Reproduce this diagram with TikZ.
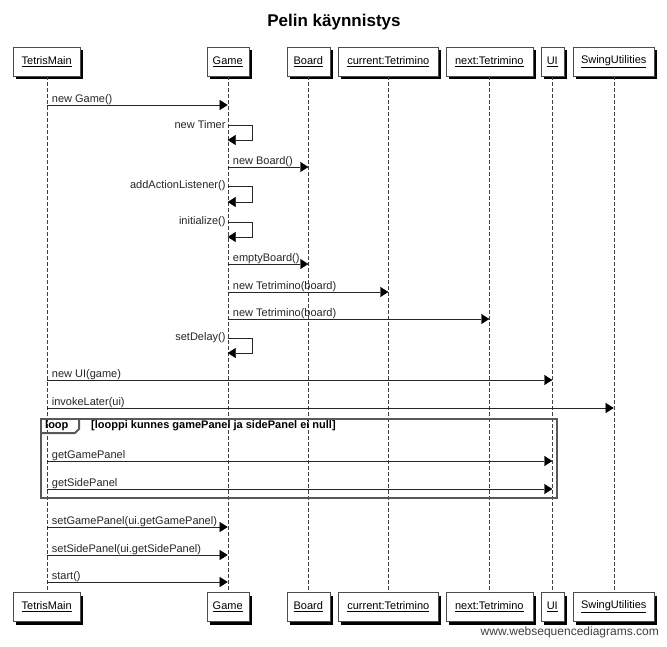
\documentclass[tikz,border=0pt]{standalone}
\usepackage{fontspec}
\setmainfont{Liberation Sans}
\usetikzlibrary{arrows.meta,shadows}

\begin{document}
\begin{tikzpicture}[x=1pt, y=-1pt,
    box/.style={draw=black!70, fill=white, minimum height=29pt, inner sep=0pt, font=\fontsize{11}{13}\selectfont, drop shadow={shadow xshift=3pt, shadow yshift=-3pt, fill=black, opacity=1}},
    life/.style={black!75, dash pattern=on 4pt off 2pt},
    msg/.style={black!85, -{Triangle[length=8pt, width=10pt, color=black, fill=black]}},
    lbl/.style={anchor=base west, font=\fontsize{11}{13}\selectfont, xshift=5pt, yshift=3pt, inner sep=0pt},
    selflbl/.style={anchor=east, font=\fontsize{11}{13}\selectfont, xshift=-2pt, inner sep=0pt},
    frame/.style={black!65, line width=2pt}]
    \useasboundingbox (0,0) rectangle (667,646);
    \fill[white] (0,0) rectangle (667,646);
    
    \node[font=\bfseries\fontsize{17}{19}\selectfont] (title) at (334,22) {Pelin käynnistys};
    
    \node[box, minimum width=67pt] (main) at (46.7,61.5) {\underline{TetrisMain}};
    \node[box, minimum width=42pt] (game) at (227.7,61.5) {\underline{Game}};
    \node[box, minimum width=43pt] (board) at (308.3,61.5) {\underline{Board}};
    \node[box, minimum width=100pt] (cur) at (388.3,61.5) {\underline{current:Tetrimino}};
    \node[box, minimum width=87pt] (next) at (489.3,61.5) {\underline{next:Tetrimino}};
    \node[box, minimum width=23pt] (ui) at (552.3,61.5) {\underline{UI}};
    \node[box, minimum width=81pt] (swing) at (613.7,61.5) {\underline{SwingUtilities}};
    
    \node[box, minimum width=67pt] (main2) at (46.7,607) {\underline{TetrisMain}};
    \node[box, minimum width=42pt] (game2) at (227.7,607) {\underline{Game}};
    \node[box, minimum width=43pt] (board2) at (308.3,607) {\underline{Board}};
    \node[box, minimum width=100pt] (cur2) at (388.3,607) {\underline{current:Tetrimino}};
    \node[box, minimum width=87pt] (next2) at (489.3,607) {\underline{next:Tetrimino}};
    \node[box, minimum width=23pt] (ui2) at (552.3,607) {\underline{UI}};
    \node[box, minimum width=81pt] (swing2) at (613.7,607) {\underline{SwingUtilities}};
    
    \draw[life] (main) -- (main2);
    \draw[life] (game) -- (game2);
    \draw[life] (board) -- (board2);
    \draw[life] (cur) -- (cur2);
    \draw[life] (next) -- (next2);
    \draw[life] (ui) -- (ui2);
    \draw[life] (swing) -- (swing2);
    
    \draw[msg] (main |- 0,105) node[lbl] {new Game()} -- (game |- 0,105);
    \draw[msg] (game |- 0,125) node[selflbl] {new Timer} -- ++(24,0) -- ++(0,15) -- (game |- 0,140);
    \draw[msg] (game |- 0,167) node[lbl] {new Board()} -- (board |- 0,167);
    \draw[msg] (game |- 0,186) node[selflbl] {addActionListener()} -- ++(24,0) -- ++(0,16) -- (game |- 0,202);
    \draw[msg] (game |- 0,222) node[selflbl] {initialize()} -- ++(24,0) -- ++(0,15) -- (game |- 0,237);
    \draw[msg] (game |- 0,264) node[lbl] {emptyBoard()} -- (board |- 0,264);
    \draw[msg] (game |- 0,292) node[lbl] {new Tetrimino(board)} -- (cur |- 0,292);
    \draw[msg] (game |- 0,319) node[lbl] {new Tetrimino(board)} -- (next |- 0,319);
    \draw[msg] (game |- 0,338) node[selflbl] {setDelay()} -- ++(24,0) -- ++(0,15) -- (game |- 0,353);
    \draw[msg] (main |- 0,380) node[lbl] {new UI(game)} -- (ui |- 0,380);
    \draw[msg] (main |- 0,408) node[lbl] {invokeLater(ui)} -- (swing |- 0,408);
    
    \draw[frame] (41,419) rectangle (557,498);
    \draw[frame] (41,433) -- (75,433) -- (79,429) -- (79,419);
    \node[anchor=west, inner sep=0pt, font=\bfseries\fontsize{11}{13}\selectfont] (looptag) at (45,426) {loop};
    \node[anchor=west, inner sep=0pt, font=\bfseries\fontsize{11}{13}\selectfont] (loopcond) at (91,426) {[looppi kunnes gamePanel ja sidePanel ei null]};
    
    \draw[msg] (main |- 0,461) node[lbl] {getGamePanel} -- (ui |- 0,461);
    \draw[msg] (main |- 0,489) node[lbl] {getSidePanel} -- (ui |- 0,489);
    
    \draw[msg] (main |- 0,527) node[lbl] {setGamePanel(ui.getGamePanel)} -- (game |- 0,527);
    \draw[msg] (main |- 0,555) node[lbl] {setSidePanel(ui.getSidePanel)} -- (game |- 0,555);
    \draw[msg] (main |- 0,582) node[lbl] {start()} -- (game |- 0,582);
    
    \node[anchor=base east, inner sep=0pt, black!75, font=\fontsize{12}{14}\selectfont] (wsd) at (659,635) {www.websequencediagrams.com};
\end{tikzpicture}
\end{document}
